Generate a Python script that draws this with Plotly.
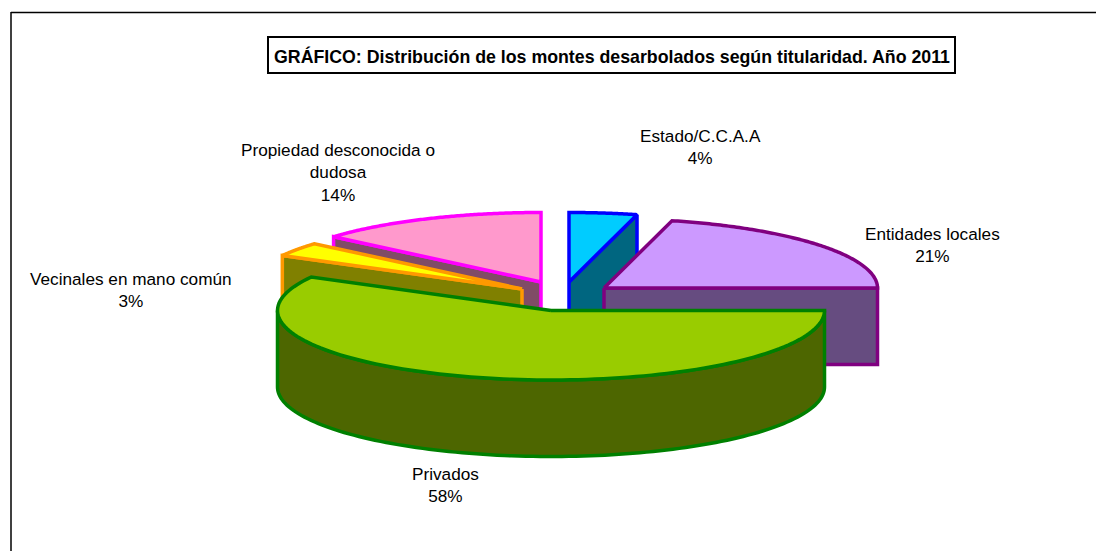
import numpy as np
import plotly.graph_objects as go

TITLE = "GRÁFICO: Distribución de los montes desarbolados según titularidad. Año 2011"
categories = ["Estado/C.C.A.A", "Entidades locales", "Privados", "Vecinales en mano común", "Propiedad desconocida o<br>dudosa"]
shares = [4.0, 21.0, 58.0, 3.3, 13.7]

fills = ["#00CCFF", "#CC99FF", "#99CC00", "#FFFF00", "#FF99CC"]
sides = ["#006680", "#664C80", "#4D6600", "#808000", "#804C66"]
edges = ["#0000FF", "#800080", "#008000", "#FF9900", "#FF00FF"]
# projected apex of each exploded slice on the chart's pixel-sized axes
apex_x = [569, 604, 551, 522, 541]
apex_y = [282, 288, 310.5, 289, 282]
label_x = [700, 932, 445, 131, 338]
label_y = [147, 245, 484.5, 290, 172]
draw_order = [0, 4, 3, 1, 2]
RX, RY, DEPTH = 273.5, 69.5, 76.5
LW = 3.5

fracs = np.cumsum([0] + shares) / sum(shares) * 2 * np.pi


def rim(i, a0=None, a1=None, dy=0):
    a0 = fracs[i] if a0 is None else a0
    a1 = fracs[i + 1] if a1 is None else a1
    t = np.linspace(a0, a1, 120)
    return apex_x[i] + RX * np.sin(t), apex_y[i] - RY * np.cos(t) + dy


def poly(x, y, fill, edge):
    return go.Scatter(x=np.r_[x, x[0]], y=np.r_[y, y[0]], mode="lines", fill="toself", fillcolor=fill,
                      line=dict(color=edge, width=LW, simplify=False), hoverinfo="skip", showlegend=False)


fig = go.Figure()
for i in draw_order:
    ax, ay = apex_x[i], apex_y[i]
    a0, a1 = fracs[i], fracs[i + 1]
    rx0, ry0 = rim(i)
    if a1 <= np.pi:
        # right-hand slices show their closing radial face
        ex, ey = rx0[-1], ry0[-1]
    elif a0 >= np.pi:
        # left-hand slices show their opening radial face
        ex, ey = rx0[0], ry0[0]
    else:
        ex = None
    if ex is not None:
        fig.add_trace(poly([ax, ex, ex, ax], [ay, ey, ey + DEPTH, ay + DEPTH], sides[i], edges[i]))
    else:
        # slice spanning the front: outer wall
        tx, ty = rim(i, a0, min(a1, 1.5 * np.pi))
        bx, by = rim(i, a0, min(a1, 1.5 * np.pi), DEPTH)
        fig.add_trace(poly(np.r_[tx, bx[::-1]], np.r_[ty, by[::-1]], sides[i], edges[i]))
    fig.add_trace(poly(np.r_[ax, rx0], np.r_[ay, ry0], fills[i], edges[i]))

FONT = "Liberation Sans, Arial, sans-serif"
annotations = [
    dict(x=label_x[i], y=label_y[i], xref="x", yref="y", text=f"{categories[i]}<br>{round(shares[i])}%", showarrow=False,
         font=dict(family=FONT, size=17.2, color="#000000"), align="center")
    for i in range(len(shares))
]
annotations.append(dict(x=612, y=56, xref="x", yref="y", text=f"<b>{TITLE}</b>", showarrow=False,
                        font=dict(family=FONT, size=17.75, color="#000000")))

fig.update_layout(
    width=1096, height=551, margin=dict(l=0, r=0, t=0, b=0),
    paper_bgcolor="#FFFFFF", plot_bgcolor="#FFFFFF", showlegend=False,
    xaxis=dict(range=[0, 1096], visible=False, fixedrange=True),
    yaxis=dict(range=[551, 0], visible=False, fixedrange=True),
    annotations=annotations,
    shapes=[
        dict(type="line", xref="x", yref="y", x0=11, x1=1096, y0=12.5, y1=12.5, line=dict(color="#000000", width=1.5)),
        dict(type="line", xref="x", yref="y", x0=11, x1=11, y0=12, y1=551, line=dict(color="#000000", width=1.5)),
        dict(type="rect", xref="x", yref="y", x0=268, x1=955, y0=37, y1=73, fillcolor="#FFFFFF", layer="below",
             line=dict(color="#000000", width=2)),
    ],
)
fig.write_html("out.html", config=dict(displayModeBar=False),
               post_script="document.body.style.margin='0';document.documentElement.style.overflow='hidden';")
